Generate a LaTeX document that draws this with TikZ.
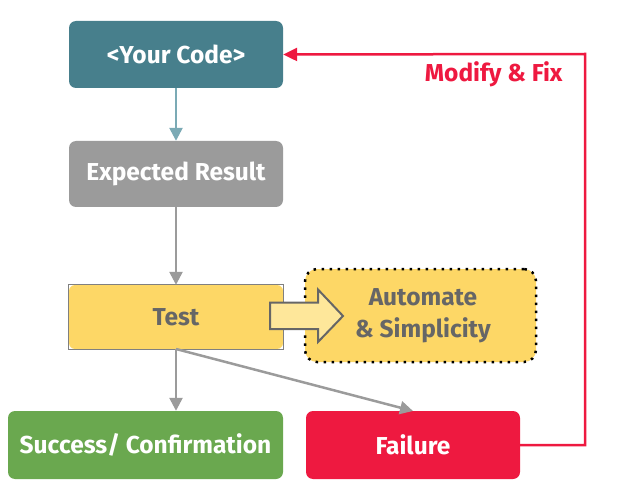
\documentclass[tikz,border=0pt]{standalone}
\usepackage{fontspec}
\setmainfont{Fira Sans}
\usetikzlibrary{arrows.meta}
\definecolor{teal}{HTML}{477F8C}
\definecolor{lteal}{HTML}{7BAAB5}
\definecolor{grayb}{HTML}{9B9B9B}
\definecolor{yel}{HTML}{FDD766}
\definecolor{lyel}{HTML}{FEE79A}
\definecolor{txtg}{HTML}{666666}
\definecolor{grn}{HTML}{6AA84F}
\definecolor{redc}{HTML}{EE1940}
\begin{document}
\begin{tikzpicture}[x=1pt,y=-1pt,
  box/.style={rounded corners=7pt,inner sep=0pt,font=\bfseries\fontsize{24.5}{28}\selectfont,text=white},
  conn/.style={line width=2.5pt,-{Triangle[length=13pt,width=13pt]}}]
\useasboundingbox (0,0) rectangle (627,492);
\node[box,fill=teal,minimum width=214pt,minimum height=67pt] (code) at (176,54.5) {<Your Code>};
\node[box,fill=grayb,minimum width=214pt,minimum height=66pt] (exp) at (176,174) {Expected Result};
\node[box,fill=yel,rounded corners=6pt,minimum width=214pt,minimum height=64pt,text=txtg] (test) at (176,317) {Test};
\draw[gray,line width=0.8pt] (test.north west) rectangle (test.south east);
\node[box,fill=yel,rounded corners=12pt,draw=black,dash pattern=on 2.5pt off 5.5pt,line width=2.5pt,minimum width=231pt,minimum height=93pt,text=txtg,align=center,font=\bfseries\fontsize{24.5}{32}\selectfont] (auto) at (420.5,315.5) {\hspace*{5pt}Automate\\\hspace*{5pt}\& Simplicity};
\draw[draw=txtg,fill=lyel,line width=2pt,line join=miter] (270,302.5) -- (318,302.5) -- (318,289.5) -- (343,316) -- (318,342) -- (318,329) -- (270,329) -- cycle;
\node[box,fill=grn,minimum width=275pt,minimum height=68pt] (succ) at (145.5,445) {Success/ Confirmation};
\node[box,fill=redc,minimum width=214pt,minimum height=68pt] (fail) at (413,445) {Failure};
\coordinate (tb) at (176,349);
\coordinate (ft) at (413,411);
\draw[conn,lteal] (code.south) -- (exp.north);
\draw[conn,grayb] (exp.south) -- (test.north);
\draw[conn,grayb] (tb) -- (succ.north -| tb);
\draw[conn,grayb] (tb) -- (ft);
\coordinate (rc) at (585,54);
\draw[redc,line width=2.5pt,-{Triangle[length=14pt,width=13pt]}] (fail.east) -| (rc) -- (code.east);
\node[text=redc,font=\bfseries\fontsize{24.5}{28}\selectfont,anchor=east] (mf) at (566,74) {Modify \& Fix};
\end{tikzpicture}
\end{document}
